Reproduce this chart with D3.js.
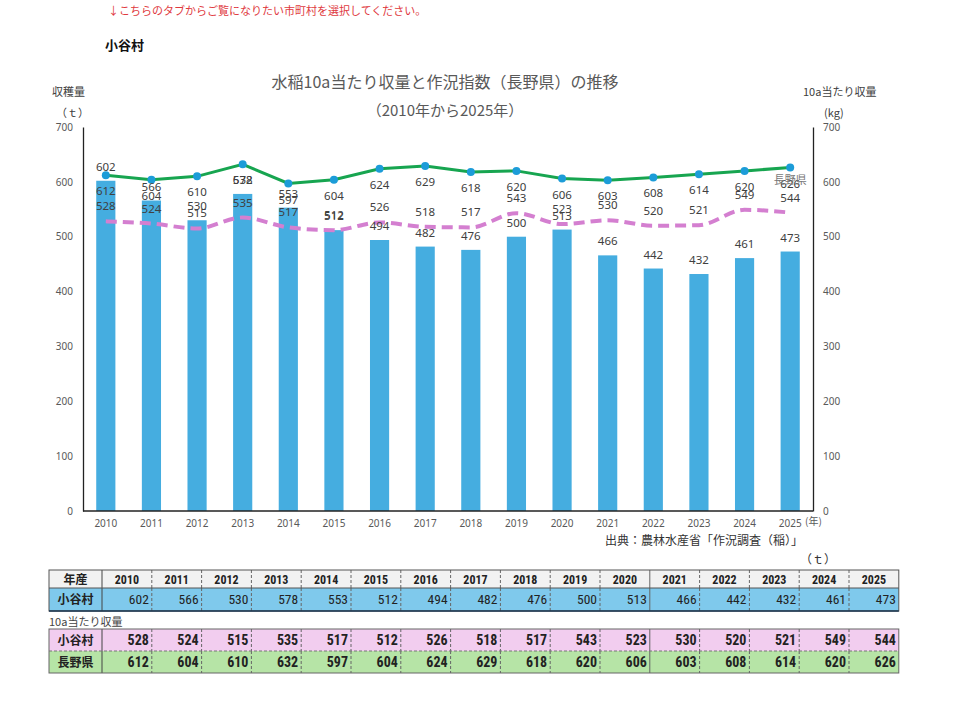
<!DOCTYPE html>
<html>
<head>
<meta charset="utf-8">
<script src="https://cdn.jsdelivr.net/npm/d3@7"></script>
<style>
  body { margin: 0; background: #fff; font-family: "Noto Sans CJK JP", "Noto Sans", sans-serif; }
</style>
</head>
<body>
<div id="chart"></div>
<script>
const years = ['2010','2011','2012','2013','2014','2015','2016','2017','2018','2019','2020','2021','2022','2023','2024','2025'];
const harvest = [602,566,530,578,553,512,494,482,476,500,513,466,442,432,461,473];
const villageYield = [528,524,515,535,517,512,526,518,517,543,523,530,520,521,549,544];
const prefYield = [612,604,610,632,597,604,624,629,618,620,606,603,608,614,620,626];
const yTicks = [0,100,200,300,400,500,600,700];

const W = 960, H = 701;
const plotLeft = 83, plotRight = 813, plotTop = 127, plotBottom = 511;
const textGray = '#595959';

const svg = d3.select('#chart').append('svg')
    .attr('width', W).attr('height', H);

// top notes
svg.append('text').attr('x', 108).attr('y', 15)
    .style('font-size', '11px').style('fill', '#e0393e')
    .text('↓こちらのタブからご覧になりたい市町村を選択してください。');
svg.append('text').attr('x', 105).attr('y', 50)
    .style('font-size', '13px').style('font-weight', 'bold').style('fill', '#111')
    .text('小谷村');

// titles
svg.append('text').attr('x', 445).attr('y', 88).attr('text-anchor', 'middle')
    .style('font-size', '16px').style('fill', textGray)
    .text('水稲10a当たり収量と作況指数（長野県）の推移');
svg.append('text').attr('x', 445).attr('y', 116).attr('text-anchor', 'middle')
    .style('font-size', '15px').style('fill', textGray)
    .text('（2010年から2025年）');

svg.append('text').attr('x', 52).attr('y', 96)
    .style('font-size', '11px').style('fill', '#404040').text('収穫量');
svg.append('text').attr('x', 56).attr('y', 117)
    .style('font-size', '11px').style('fill', '#404040').text('（ｔ）');
svg.append('text').attr('x', 803).attr('y', 96)
    .style('font-size', '11px').style('fill', '#404040').text('10a当たり収量');
svg.append('text').attr('x', 824).attr('y', 117)
    .style('font-size', '11px').style('fill', '#404040').text('(kg)');

// scales
const x = d3.scaleBand().domain(years).range([plotLeft, plotRight]).paddingInner(0.58).paddingOuter(0.29);
const y = d3.scaleLinear().domain([0, 700]).range([plotBottom, plotTop]);

const g = svg.append('g');

// bars
g.selectAll('rect.bar').data(harvest).enter().append('rect')
    .attr('x', (d, i) => x(years[i]))
    .attr('y', d => y(d))
    .attr('width', x.bandwidth())
    .attr('height', d => y(0) - y(d))
    .style('fill', '#45ade0');

// axes
const yl = d3.axisLeft(y).tickValues(yTicks).tickSize(0).tickPadding(10);
const yr = d3.axisRight(y).tickValues(yTicks).tickSize(0).tickPadding(10);
const xa = d3.axisBottom(x).tickSize(0).tickPadding(9);

const gl = svg.append('g').attr('transform', `translate(${plotLeft},0)`).call(yl);
const gr = svg.append('g').attr('transform', `translate(${plotRight},0)`).call(yr);
const gx = svg.append('g').attr('transform', `translate(0,${plotBottom})`).call(xa);
[gl, gr, gx].forEach(a => {
    a.selectAll('text').style('font-size', '10px').style('fill', textGray)
        .style('font-family', '"Noto Sans", sans-serif');
    a.select('.domain').style('stroke', '#222').style('stroke-width', 1.3);
});
gx.select('.domain').attr('d', `M${plotLeft},0H${plotRight}`);

svg.append('text').attr('x', 805).attr('y', 525)
    .style('font-size', '10px').style('fill', textGray).text('(年)');

// lines
const cx = i => x(years[i]) + x.bandwidth() / 2;

const pinkLine = d3.line().x((d, i) => cx(i)).y(d => y(d)).curve(d3.curveMonotoneX);
g.append('path').datum(villageYield)
    .attr('d', pinkLine)
    .style('fill', 'none').style('stroke', '#d47fd0').style('stroke-width', 4)
    .style('stroke-dasharray', '11,6');

const greenLine = d3.line().x((d, i) => cx(i)).y(d => y(d));
g.append('path').datum(prefYield)
    .attr('d', greenLine)
    .style('fill', 'none').style('stroke', '#17a550').style('stroke-width', 3);

g.selectAll('circle.pt').data(prefYield).enter().append('circle')
    .attr('cx', (d, i) => cx(i)).attr('cy', d => y(d)).attr('r', 4)
    .style('fill', '#1c9cd8');

// data labels (overlapping as in the original Excel chart)
const lab = (arr, dy) => g.append('g').selectAll('text').data(arr).enter().append('text')
    .attr('x', (d, i) => cx(i)).attr('y', d => y(d) + dy)
    .attr('text-anchor', 'middle')
    .style('font-size', '11.5px').style('fill', '#404040')
    .style('font-family', '"Noto Sans", sans-serif')
    .text(d => d);
lab(harvest, -10);
lab(prefYield, 20);
lab(villageYield, -11);

g.append('text').attr('x', cx(15)).attr('y', y(626) + 16)
    .attr('text-anchor', 'middle')
    .style('font-size', '11px').style('fill', '#777')
    .text('長野県');

svg.append('text').attr('x', 803).attr('y', 545).attr('text-anchor', 'end')
    .style('font-size', '12px').style('fill', '#333')
    .text('出典：農林水産省「作況調査（稲）」');
svg.append('text').attr('x', 800).attr('y', 564)
    .style('font-size', '12px').style('fill', '#333').text('（ｔ）');

// table
const tx0 = 49, c0w = 53, cw = 49.8;
const rows = [
    { label: '年産', vals: years, y0: 570, h: 18, bg: '#f2f2f2', bold: true, center: true },
    { label: '小谷村', vals: harvest, y0: 588, h: 23, bg: '#7fc9ec', bold: false },
    { label: '小谷村', vals: villageYield, y0: 629, h: 22, bg: '#f2cdef', bold: true },
    { label: '長野県', vals: prefYield, y0: 651, h: 22, bg: '#b6e4a6', bold: true }
];
const tg = svg.append('g');
rows.forEach(r => {
    tg.append('rect').attr('x', tx0).attr('y', r.y0).attr('width', c0w + cw * 16).attr('height', r.h)
        .style('fill', r.bg);
    tg.append('text').attr('x', tx0 + c0w / 2).attr('y', r.y0 + r.h / 2 + 4.5)
        .attr('text-anchor', 'middle')
        .style('font-size', '12px').style('font-weight', 'bold').style('fill', '#222')
        .text(r.label);
    r.vals.forEach((v, i) => {
        const cxl = tx0 + c0w + cw * i;
        tg.append('text')
            .attr('x', r.center ? cxl + cw / 2 : cxl + cw - 3)
            .attr('y', r.y0 + r.h / 2 + (r.bold && !r.center ? 5 : 4.5))
            .attr('text-anchor', r.center ? 'middle' : 'end')
            .style('font-size', r.center ? '12px' : (r.bold ? '14px' : '13.5px'))
            .style('font-weight', r.bold ? 'bold' : 'normal')
            .style('font-family', '"Liberation Sans Narrow", "Roboto Condensed", "Liberation Sans", sans-serif')
            .style('fill', '#222')
            .text(v);
        if (i > 0) {
            tg.append('line').attr('x1', cxl).attr('x2', cxl).attr('y1', r.y0).attr('y2', r.y0 + r.h)
                .style('stroke', '#666').style('stroke-width', 1)
                .style('stroke-dasharray', i === 11 ? null : '3,2');
        }
    });
    tg.append('line').attr('x1', tx0 + c0w).attr('x2', tx0 + c0w).attr('y1', r.y0).attr('y2', r.y0 + r.h)
        .style('stroke', '#444');
});
// table borders
const tw = c0w + cw * 16;
tg.append('rect').attr('x', tx0).attr('y', 570).attr('width', tw).attr('height', 41)
    .style('fill', 'none').style('stroke', '#555');
tg.append('line').attr('x1', tx0).attr('x2', tx0 + tw).attr('y1', 588).attr('y2', 588)
    .style('stroke', '#555');
tg.append('line').attr('x1', tx0).attr('x2', tx0 + tw).attr('y1', 611).attr('y2', 611)
    .style('stroke', '#1b3650').style('stroke-width', 1.5);
tg.append('rect').attr('x', tx0).attr('y', 629).attr('width', tw).attr('height', 44)
    .style('fill', 'none').style('stroke', '#666');
tg.append('line').attr('x1', tx0).attr('x2', tx0 + tw).attr('y1', 651).attr('y2', 651)
    .style('stroke', '#777').style('stroke-dasharray', '3,2');
tg.append('text').attr('x', 49).attr('y', 626)
    .style('font-size', '11px').style('fill', '#444').text('10a当たり収量');
</script>
</body>
</html>
